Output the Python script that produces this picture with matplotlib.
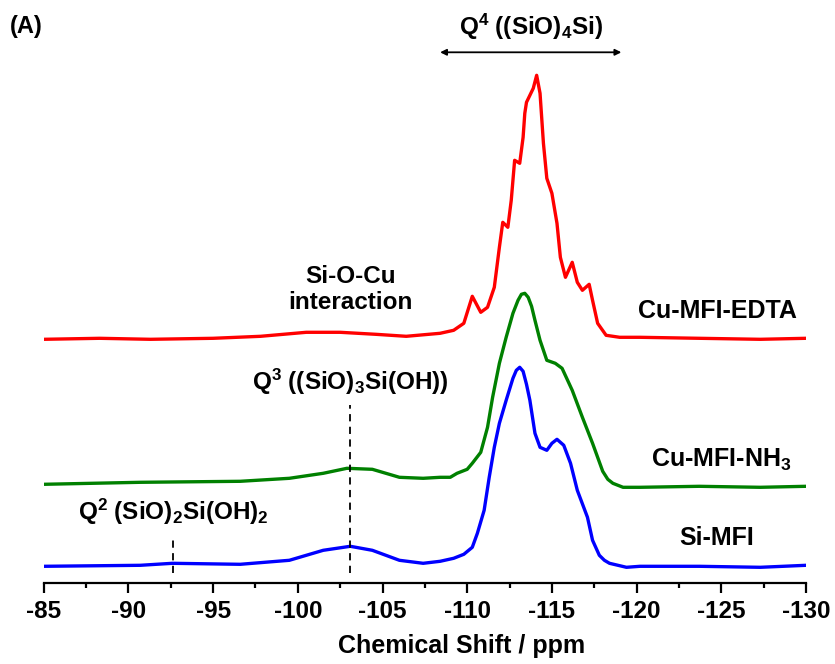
import matplotlib
matplotlib.use("Agg")
import matplotlib.pyplot as plt

plt.rcParams['font.family'] = ['Liberation Sans', 'DejaVu Sans']
plt.rcParams['font.weight'] = 'bold'
plt.rcParams['axes.unicode_minus'] = False
plt.rcParams['mathtext.fontset'] = 'custom'
plt.rcParams['mathtext.rm'] = 'Liberation Sans:bold'
plt.rcParams['mathtext.default'] = 'rm'

# Cu-MFI-EDTA (red), intensity above its own baseline
edta_ppm = [-85.0, -88.3, -91.3, -95.0, -97.8, -100.5, -102.5, -104.6, -106.4, -108.4,
            -109.2, -109.8, -110.3, -110.8, -111.2, -111.6, -111.9, -112.1, -112.4, -112.6,
            -112.8, -113.1, -113.3, -113.4, -113.5, -113.7, -113.9, -114.1, -114.3, -114.5,
            -114.7, -115.0, -115.3, -115.5, -115.8, -116.2, -116.5, -116.8, -117.2, -117.4,
            -117.7, -118.2, -119.0, -120.2, -123.7, -127.3, -130.0]
edta_int = [-1, 0, -1, 0, 2, 6, 6, 4, 2, 5,
            8, 15, 42, 26, 31, 51, 91, 116, 111, 138,
            178, 175, 201, 225, 236, 243, 250, 263, 245, 195,
            160, 145, 115, 81, 61, 76, 56, 48, 54, 38,
            15, 3, 1, 1, 0, -1, 0]

# Cu-MFI-NH3 (green)
nh3_ppm = [-85.0, -90.7, -96.6, -99.5, -101.5, -102.9, -104.4, -106.0, -107.4, -108.4,
           -109.0, -109.4, -110.0, -110.3, -110.8, -111.2, -111.5, -111.9, -112.3, -112.7,
           -113.0, -113.2, -113.4, -113.6, -113.8, -114.0, -114.3, -114.7, -115.2, -115.6,
           -116.2, -116.8, -117.4, -118.0, -118.3, -118.6, -119.2, -120.2, -123.7, -127.3,
           -130.0]
nh3_int = [3, 5, 6, 9, 14, 19, 18, 10, 9, 10,
           10, 14, 18, 24, 35, 60, 90, 124, 150, 174,
           187, 193, 194, 190, 181, 167, 147, 127, 124, 119,
           97, 70, 44, 16, 8, 4, 0, 0, 1, 0,
           1]

# Si-MFI (blue)
si_ppm = [-85.0, -90.7, -92.6, -96.6, -99.5, -101.5, -103.1, -104.4, -106.0, -107.4,
          -108.4, -109.2, -109.8, -110.3, -110.6, -111.0, -111.3, -111.6, -111.9, -112.3,
          -112.7, -112.9, -113.1, -113.3, -113.5, -113.7, -114.0, -114.3, -114.7, -115.0,
          -115.3, -115.7, -116.1, -116.5, -117.1, -117.4, -117.8, -118.1, -118.4, -119.4,
          -120.2, -123.7, -127.3, -130.0]
si_int = [0, 1, 3, 2, 6, 16, 20, 16, 6, 3,
          5, 8, 12, 19, 33, 56, 89, 119, 143, 166,
          188, 196, 199, 195, 182, 166, 133, 119, 116, 123,
          127, 121, 103, 76, 49, 26, 11, 6, 3, -1,
          0, 0, -1, 1]

names = ['Cu-MFI-EDTA', 'Cu-MFI-NH$_3$', 'Si-MFI']
colors = ['#ff0000', '#008000', '#0000ff']
offsets = [245, 96, 17]

q3_ppm = -103.1
q2_ppm = -92.65
q4_range = (-108.4, -119.1)

fig = plt.figure(figsize=(8.35, 6.64), dpi=100)
ax = fig.add_axes([43.7 / 835, (664 - 583.3) / 664, (806 - 43.7) / 835, 573.3 / 664])

series = [(edta_ppm, edta_int), (nh3_ppm, nh3_int), (si_ppm, si_int)]
for (xs, ys), c, off in zip(series, colors, offsets):
    ax.plot(xs, [v + off for v in ys], color=c, lw=2.4, solid_joinstyle='round')

ax.set_xlim(-85, -130)
ax.set_ylim(0, 573.3)
ax.set_xticks(range(-85, -131, -5))
ax.set_xticks([-87.5 - 5 * i for i in range(9)], minor=True)
for s in ['left', 'right', 'top']:
    ax.spines[s].set_visible(False)
ax.spines['bottom'].set_linewidth(1.6)
ax.set_yticks([])
ax.tick_params(axis='x', which='major', length=7, width=1.6, labelsize=17.5, pad=5)
ax.tick_params(axis='x', which='minor', length=3.6, width=1.6)
ax.set_xlabel('Chemical Shift / ppm', fontsize=18, fontweight='bold')
ax.xaxis.set_label_coords((462 - 43.7) / 762.3, -0.088)

# sample labels
ax.text(-124.75, 272, names[0], fontsize=18, ha='center', va='center')
ax.text(-125.0, 123, names[1], fontsize=18, ha='center', va='center')
ax.text(-124.75, 45, names[2], fontsize=18, ha='center', va='center')

# peak assignments
ax.text(q3_ppm, 294, 'Si-O-Cu\ninteraction', fontsize=17.5, ha='center', va='center',
        linespacing=1.15)
ax.text(q3_ppm, 201, r'Q$^3$ ((SiO)$_3$Si(OH))', fontsize=17.5, ha='center', va='center')
ax.text(q2_ppm, 71, r'Q$^2$ (SiO)$_2$Si(OH)$_2$', fontsize=17.5, ha='center', va='center')
ax.plot([q3_ppm, q3_ppm], [10, 178], color='black', lw=1.3, ls=(0, (4, 3)))
ax.plot([q2_ppm, q2_ppm], [10, 47], color='black', lw=1.3, ls=(0, (4, 3)))

ax.annotate('', xy=(q4_range[0], 531), xytext=(q4_range[1], 531),
            arrowprops=dict(arrowstyle='<|-|>', color='black', lw=1.3,
                            mutation_scale=9, shrinkA=0, shrinkB=0))
ax.text(sum(q4_range) / 2, 556, r'Q$^4$ ((SiO)$_4$Si)', fontsize=17.5, ha='center', va='center')

fig.text(10 / 835, 1 - 27 / 664, '(A)', fontsize=17, fontweight='bold', ha='left', va='center')

fig.savefig('out.png', dpi=100)
